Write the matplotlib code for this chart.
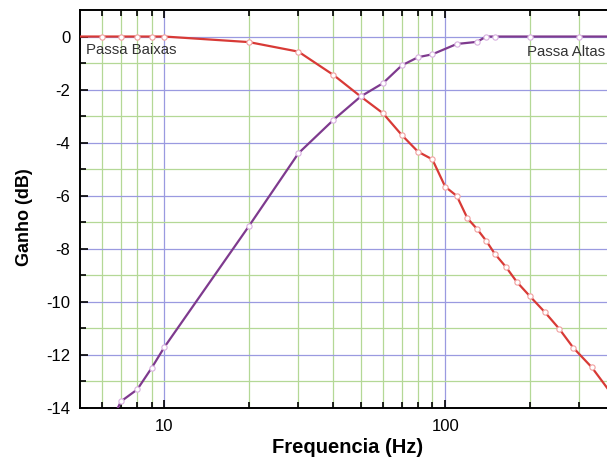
import matplotlib.pyplot as plt
import numpy as np
from matplotlib.ticker import FixedLocator, NullFormatter, FixedFormatter

# dados
freq_pb = [5, 6, 7, 8, 9, 10, 20, 30, 40, 50, 60, 70, 80, 90, 100, 110, 120, 130, 140, 150,
           165, 180, 200, 227, 255, 286, 333, 400]
ganho_pb = [0, 0, 0, 0, 0, 0, -0.21, -0.57, -1.45, -2.26, -2.89, -3.71, -4.34, -4.63, -5.66,
            -6.01, -6.85, -7.26, -7.7, -8.18, -8.7, -9.25, -9.78, -10.4, -11.02, -11.73, -12.47, -13.6]

freq_pa = [6, 7, 8, 9, 10, 20, 30, 40, 50, 60, 70, 80, 90, 110, 130, 140, 150, 200, 300, 450]
ganho_pa = [-15.2, -13.75, -13.3, -12.49, -11.7, -7.14, -4.4, -3.14, -2.26, -1.76, -1.09, -0.78,
            -0.67, -0.28, -0.2, 0, 0, 0, 0, 0]

major_x = [10, 100]
minor_x = [6, 7, 8, 9, 20, 30, 40, 50, 60, 70, 80, 90, 200, 300]
major_y = [0, -2, -4, -6, -8, -10, -12, -14]
minor_y = [-1, -3, -5, -7, -9, -11, -13]

plt.rcParams['font.family'] = ['Liberation Sans', 'DejaVu Sans']
plt.rcParams['axes.unicode_minus'] = False

fig = plt.figure(figsize=(6.07, 4.62), dpi=100)
ax = fig.add_axes([80 / 607, 54 / 462, 561.4 / 607, 398 / 462])
ax.set_xscale('log')
ax.set_xlim(5, 500)
ax.set_ylim(-14, 1)

# grade: azul nos principais, verde nos secundarios
for v in minor_x:
    ax.axvline(v, color='#b4d896', lw=0.9, zorder=1)
for v in major_x:
    ax.axvline(v, color='#9a9ae0', lw=0.9, zorder=1)
for v in minor_y:
    ax.axhline(v, color='#b4d896', lw=0.9, zorder=1)
for v in major_y:
    ax.axhline(v, color='#9a9ae0', lw=0.9, zorder=1)

ax.plot(freq_pb, ganho_pb, color='#d83a36', lw=1.6, marker='o', ms=3.8,
        mfc='white', mec='#f0a0a0', mew=0.8, zorder=3, markevery=slice(1, None))
ax.plot(freq_pa, ganho_pa, color='#7e3a8e', lw=1.6, marker='o', ms=3.8,
        mfc='white', mec='#d8b0e0', mew=0.8, zorder=3)

ax.text(5.25, -0.5, 'Passa Baixas', fontsize=10.8, color='#333333', va='center', ha='left', zorder=4)
ax.text(196, -0.6, 'Passa Altas', fontsize=10.8, color='#333333', va='center', ha='left', zorder=4)

ax.xaxis.set_major_locator(FixedLocator(major_x))
ax.xaxis.set_major_formatter(FixedFormatter(['10', '100']))
ax.xaxis.set_minor_locator(FixedLocator(minor_x))
ax.xaxis.set_minor_formatter(NullFormatter())
ax.yaxis.set_major_locator(FixedLocator(major_y))
ax.yaxis.set_minor_locator(FixedLocator(minor_y))

ax.tick_params(axis='x', which='both', direction='in', top=True, bottom=True, labelsize=12, pad=8)
ax.tick_params(axis='x', which='major', length=6, width=1.2)
ax.tick_params(axis='x', which='minor', length=4, width=1.2)
ax.tick_params(axis='y', which='both', direction='in', left=True, right=False, labelsize=12, pad=7)
ax.tick_params(axis='y', which='major', length=6, width=1.2)
ax.tick_params(axis='y', which='minor', length=4, width=1.2)

for s in ['left', 'top', 'bottom']:
    ax.spines[s].set_linewidth(1.4)
ax.spines['right'].set_visible(False)

ax.set_xlabel('Frequencia (Hz)', fontsize=14.5, fontweight='bold')
ax.set_ylabel('Ganho (dB)', fontsize=13, fontweight='bold')
ax.xaxis.set_label_coords(0.476, -0.10)
ax.yaxis.set_label_coords(-0.098, 0.48)
ax.xaxis.label.set_va('center')
ax.yaxis.label.set_va('center')

fig.savefig('out.png', dpi=100)
